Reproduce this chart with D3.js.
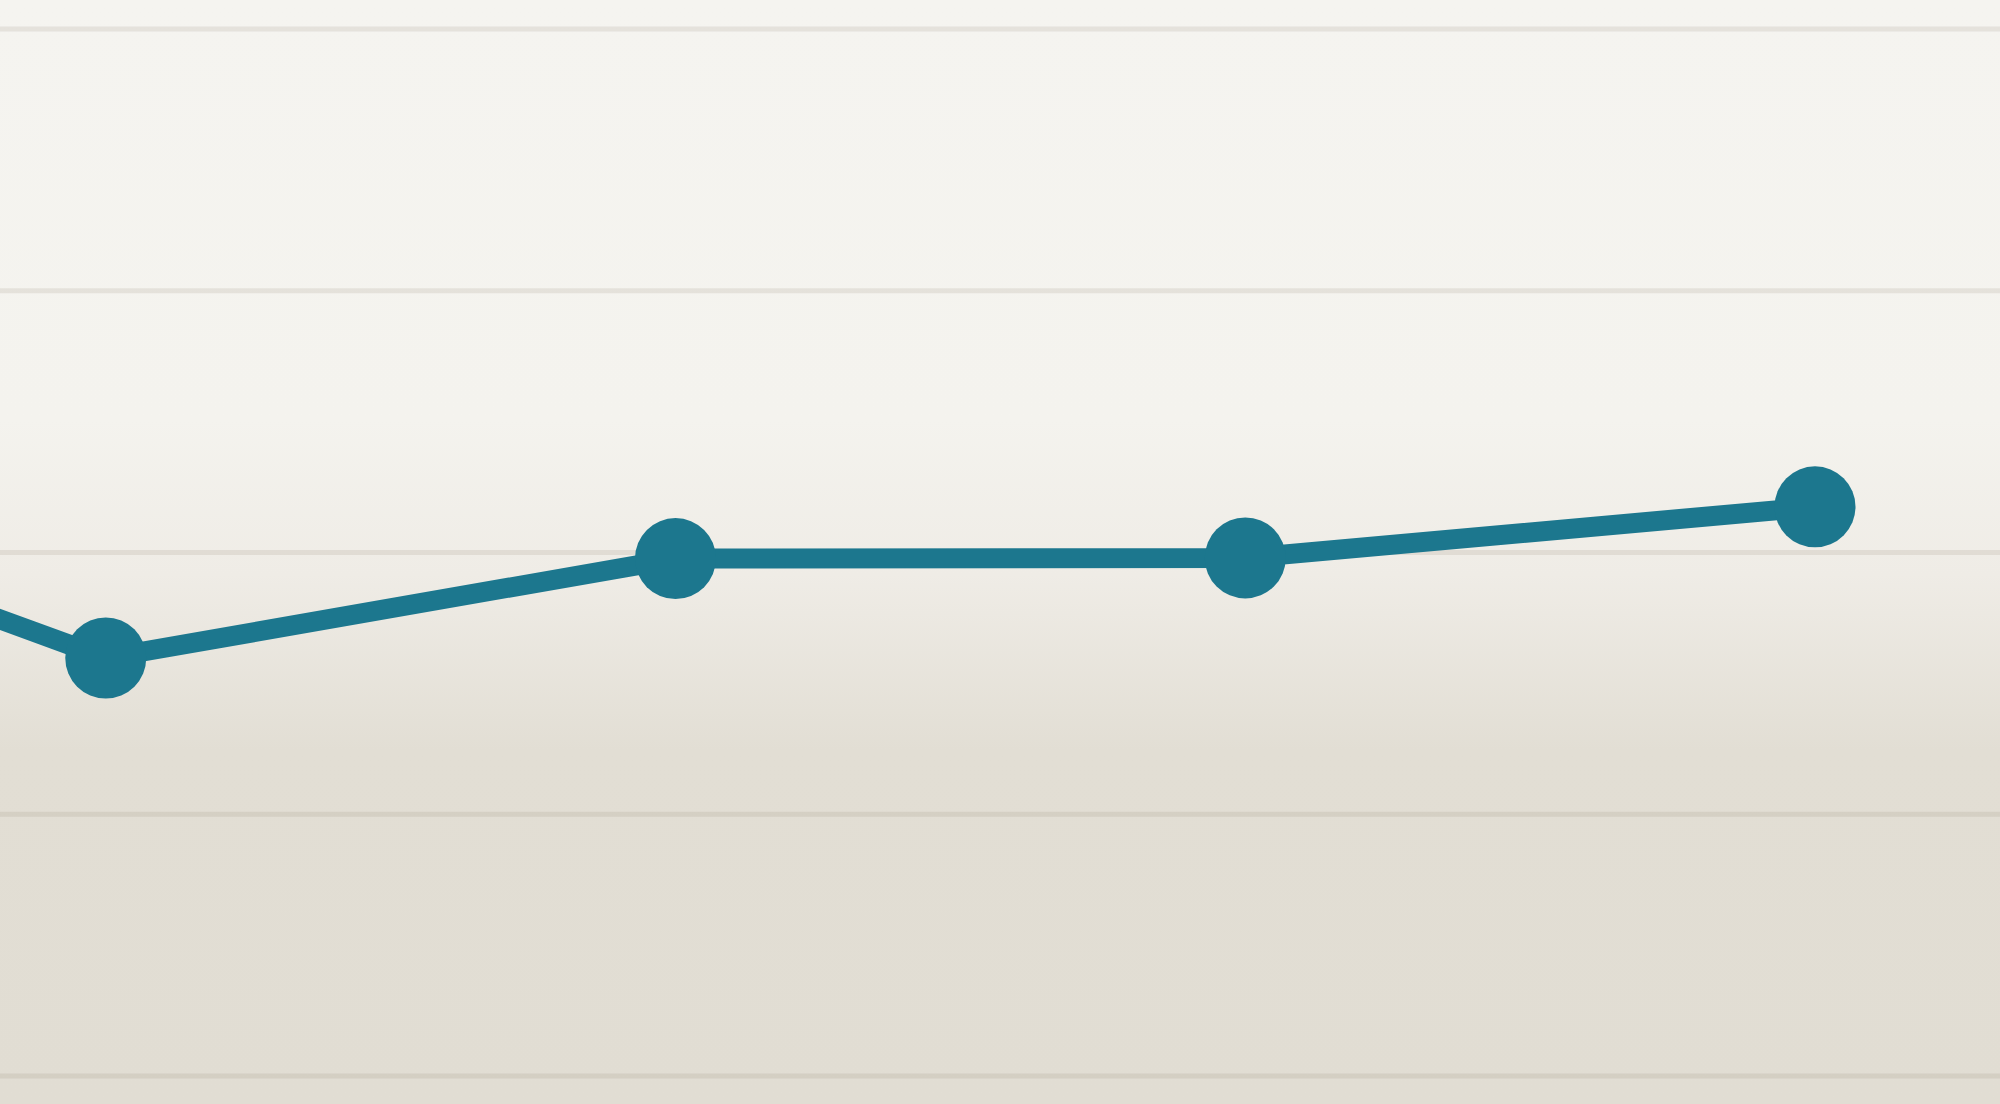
<!DOCTYPE html>
<html>
<head>
<meta charset="utf-8">
<script src="https://cdn.jsdelivr.net/npm/d3@7"></script>
<style>
  html, body { margin: 0; padding: 0; overflow: hidden; background: #f5f4f0; }
  svg { display: block; }
</style>
</head>
<body>
<svg id="chart" width="2000" height="1104"></svg>
<script>
// Data
const categories = ["P0", "P1", "P2", "P3", "P4"];
const values = [67.8, 51.9, 59.5, 59.55, 63.45];
const yTicks = [20, 40, 60, 80, 100];

const W = 2000, H = 1104;
const svg = d3.select("#chart");

// background gradient
const defs = svg.append("defs");
const grad = defs.append("linearGradient")
  .attr("id", "bg").attr("x1", 0).attr("y1", 0).attr("x2", 0).attr("y2", 1);
[[0, "#f5f4f0"], [0.38, "#f4f3ee"], [0.52, "#efece6"], [0.68, "#e2ded4"], [1, "#e1ddd3"]]
  .forEach(([o, c]) => grad.append("stop").attr("offset", o).attr("stop-color", c));
svg.append("rect").attr("width", W).attr("height", H).attr("fill", "url(#bg)");

const x = d3.scalePoint().domain(categories).range([-464, 1815]);
const y = d3.scaleLinear().domain([20, 100]).range([1075.5, 28.5]);

// gridlines
const yAxis = d3.axisLeft(y).tickValues(yTicks).tickSize(-W - 20).tickFormat("");
const g = svg.append("g").attr("transform", "translate(-10,0)").call(yAxis);
g.select(".domain").remove();
g.selectAll(".tick line")
  .attr("stroke", "#8a7f6a").attr("stroke-opacity", 0.15).attr("stroke-width", 5);

const data = categories.map((c, i) => ({ c, v: values[i] }));

const line = d3.line().x(d => x(d.c)).y(d => y(d.v));
svg.append("path").datum(data)
  .attr("d", line)
  .attr("fill", "none")
  .attr("stroke", "#1c778e")
  .attr("stroke-width", 20)
  .attr("stroke-linejoin", "round");

svg.selectAll("circle.pt").data(data).join("circle")
  .attr("class", "pt")
  .attr("cx", d => x(d.c))
  .attr("cy", d => y(d.v))
  .attr("r", 40.5)
  .attr("fill", "#1c778e");
</script>
</body>
</html>
